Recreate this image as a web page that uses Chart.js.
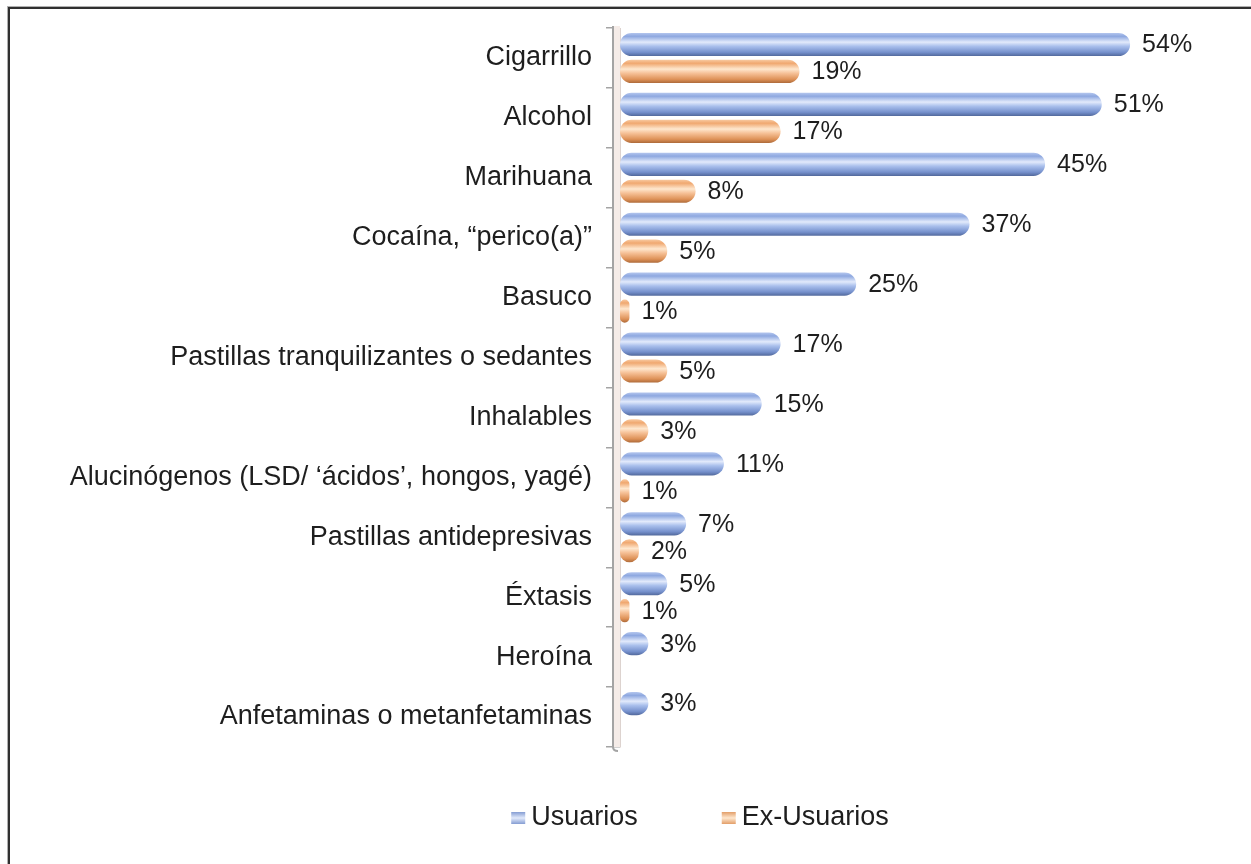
<!DOCTYPE html>
<html>
<head>
<meta charset="utf-8">
<script src="https://cdn.jsdelivr.net/npm/chart.js@4.4.1/dist/chart.umd.min.js"></script>
<style>
html,body{margin:0;padding:0;background:#fff;}
#wrap{width:1251px;height:864px;position:relative;}
</style>
</head>
<body>
<div id="wrap"><canvas id="c" width="1251" height="864"></canvas></div>
<script>
const categories = [
  'Cigarrillo',
  'Alcohol',
  'Marihuana',
  'Cocaína, “perico(a)”',
  'Basuco',
  'Pastillas tranquilizantes o sedantes',
  'Inhalables',
  'Alucinógenos (LSD/ ‘ácidos’, hongos, yagé)',
  'Pastillas antidepresivas',
  'Éxtasis',
  'Heroína',
  'Anfetaminas o metanfetaminas'
];
const usuarios   = [54, 51, 45, 37, 25, 17, 15, 11, 7, 5, 3, 3];
const exUsuarios = [19, 17, 8, 5, 1, 5, 3, 1, 2, 1, null, null];
const seriesNames = ['Usuarios', 'Ex-Usuarios'];
const valueSuffix = '%';

const FONT = '"Liberation Sans", Arial, sans-serif';
const TEXT = '#1e1e1e';
const CAT_PCT = 0.9;
const BAR_PCT = 0.86;

const palettes = [
  ['#b4c6ee', '#8ea8e0', '#e2eafb', '#a9bfec', '#7590cc', '#52699c'],
  ['#f8c9a0', '#f0a870', '#fee7ce', '#f6c197', '#de9258', '#ad6a3a']
];
const flat = ['#7f9bd6', '#ee9e62'];

function cylinder(ctx, dsIndex) {
  const chart = ctx.chart;
  const ys = chart.scales && chart.scales.y;
  if (!chart.chartArea || !ys || ctx.dataIndex === undefined) return flat[dsIndex];
  const yc = ys.getPixelForValue(ctx.dataIndex);
  const band = Math.abs(ys.getPixelForValue(1) - ys.getPixelForValue(0));
  const slot = band * CAT_PCT / 2;
  const center = yc + (dsIndex === 0 ? -slot / 2 : slot / 2);
  const half = slot * BAR_PCT / 2;
  const g = chart.ctx.createLinearGradient(0, center - half, 0, center + half);
  const p = palettes[dsIndex];
  g.addColorStop(0, p[0]);
  g.addColorStop(0.15, p[1]);
  g.addColorStop(0.4, p[2]);
  g.addColorStop(0.58, p[3]);
  g.addColorStop(0.84, p[4]);
  g.addColorStop(1, p[5]);
  return g;
}

const framePlugin = {
  id: 'frame',
  beforeDraw(chart) {
    const c = chart.ctx;
    c.save();
    c.fillStyle = '#ffffff';
    c.fillRect(0, 0, chart.width, chart.height);
    c.fillStyle = '#b0b0b0';
    c.fillRect(7, 6, chart.width - 7, 1);
    c.fillRect(7, 6, 1, chart.height - 6);
    c.fillStyle = '#303030';
    c.fillRect(8, 7, chart.width - 8, 2);
    c.fillRect(8, 7, 2, chart.height - 7);
    c.restore();
  }
};

const wallPlugin = {
  id: 'wall',
  beforeDatasetsDraw(chart) {
    const {left, top, bottom} = chart.chartArea;
    const c = chart.ctx;
    c.save();
    c.fillStyle = '#f5ece8';
    c.fillRect(left - 7, top - 2, 7, bottom - top + 2);
    c.strokeStyle = '#a4a4a4';
    c.lineWidth = 2;
    c.beginPath();
    c.moveTo(left - 7, top - 2);
    c.lineTo(left - 7, bottom);
    c.quadraticCurveTo(left - 7, bottom + 4, left - 2, bottom + 4);
    c.stroke();
    c.restore();
  }
};

const valueLabelPlugin = {
  id: 'valueLabels',
  afterDatasetsDraw(chart) {
    const c = chart.ctx;
    c.save();
    c.font = '25px ' + FONT;
    c.fillStyle = TEXT;
    c.textAlign = 'left';
    c.textBaseline = 'middle';
    chart.data.datasets.forEach((ds, di) => {
      const meta = chart.getDatasetMeta(di);
      meta.data.forEach((el, i) => {
        const v = ds.data[i];
        if (v === null || v === undefined) return;
        c.fillText(v + valueSuffix, el.x + 12, el.y + 1);
      });
    });
    c.restore();
  }
};

const legendPlugin = {
  id: 'bottomLegend',
  afterDraw(chart) {
    const c = chart.ctx;
    c.save();
    c.font = '27px ' + FONT;
    c.textBaseline = 'middle';
    c.textAlign = 'left';
    const box = 14, gapText = 6, gapItem = 84;
    const items = chart.data.datasets.map(d => d.label);
    const widths = items.map(t => box + gapText + c.measureText(t).width);
    const total = widths.reduce((a, b) => a + b, 0) + gapItem * (items.length - 1);
    const cx = 700, cy = 818;
    let x = cx - total / 2;
    items.forEach((t, i) => {
      const g = c.createLinearGradient(0, cy - box / 2, 0, cy + box / 2);
      const p = palettes[i];
      g.addColorStop(0, p[4]);
      g.addColorStop(0.5, p[2]);
      g.addColorStop(1, p[4]);
      c.fillStyle = g;
      c.fillRect(x, cy - box / 2 + 1, box, box - 2);
      c.fillStyle = TEXT;
      c.fillText(t, x + box + gapText, cy);
      x += widths[i] + gapItem;
    });
    c.restore();
  }
};

new Chart(document.getElementById('c'), {
  type: 'bar',
  data: {
    labels: categories,
    datasets: [
      {
        label: seriesNames[0],
        data: usuarios,
        backgroundColor: ctx => cylinder(ctx, 0),
        borderRadius: 30,
        borderSkipped: false,
        categoryPercentage: CAT_PCT,
        barPercentage: BAR_PCT
      },
      {
        label: seriesNames[1],
        data: exUsuarios,
        backgroundColor: ctx => cylinder(ctx, 1),
        borderRadius: 30,
        borderSkipped: false,
        categoryPercentage: CAT_PCT,
        barPercentage: BAR_PCT
      }
    ]
  },
  options: {
    indexAxis: 'y',
    responsive: false,
    animation: false,
    devicePixelRatio: 1,
    layout: { padding: { top: 28, bottom: 117, left: 20, right: 17 } },
    plugins: {
      legend: { display: false },
      tooltip: { enabled: false }
    },
    scales: {
      x: {
        display: false,
        min: 0,
        max: 65
      },
      y: {
        afterFit(scale) {
          scale.width = 600;
          scale.paddingTop = 0;
          scale.paddingBottom = 0;
        },
        grid: {
          drawOnChartArea: false,
          color: '#a4a4a4',
          tickLength: 14,
          lineWidth: 1.5
        },
        border: { display: true, color: '#ddd3cf', width: 1 },
        ticks: {
          padding: 14,
          color: TEXT,
          font: { family: FONT, size: 27 }
        }
      }
    }
  },
  plugins: [framePlugin, wallPlugin, valueLabelPlugin, legendPlugin]
});
</script>
</body>
</html>
